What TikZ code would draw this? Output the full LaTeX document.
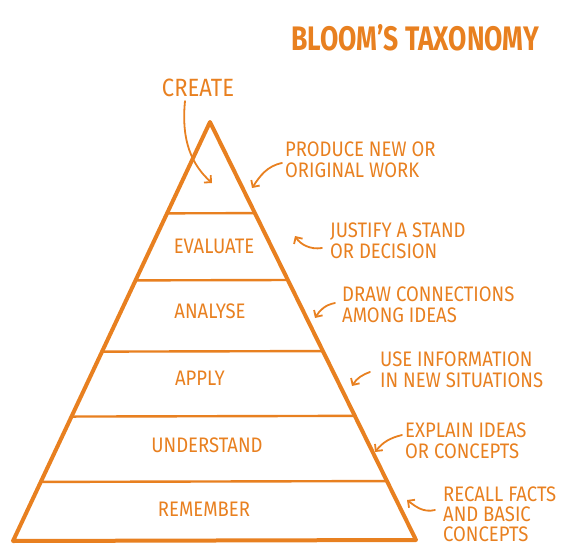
\documentclass[tikz,border=0pt]{standalone}
\usepackage{fontspec}
\setmainfont{Fira Sans}[FakeStretch=0.88]
\usetikzlibrary{arrows.meta,calc}
\definecolor{bloomorange}{RGB}{232,128,32}

\begin{document}
\begin{tikzpicture}[x=1pt,y=-1pt,
		edge/.style={bloomorange,line width=4pt,line join=round,line cap=round},
		level/.style={bloomorange,line width=2.4pt,line cap=round},
		layer/.style={bloomorange,inner sep=0pt,font=\fontsize{21}{21}\selectfont},
		note/.style={bloomorange,inner sep=0pt,anchor=west,align=left,font=\fontsize{21}{21}\selectfont},
		pointer/.style={bloomorange,line width=1.8pt,line cap=round,-{Straight Barb[length=5pt,width=10pt]}}]
		\useasboundingbox (0,0) rectangle (582,549);
		\coordinate (apex) at (210,122);
		\coordinate (bl) at (13,541);
		\coordinate (br) at (416,540);
		\draw[edge] (bl) -- (apex) -- (br) -- cycle;
		\foreach \f in {0.218,0.378,0.548,0.703,0.859}
			\draw[level] ($(apex)!\f!(bl)$) -- ($(apex)!\f!(br)$);
		\node[bloomorange,inner sep=0pt,font=\bfseries\fontsize{34}{34}\selectfont\addfontfeature{FakeStretch=0.78}] (title) at (415,38) {BLOOM'S TAXONOMY};
		\node[layer,font=\fontsize{25}{25}\selectfont] (create) at (198,88) {CREATE};
		\node[layer] (evaluate) at (214,246) {EVALUATE};
		\node[layer] (analyse) at (210,311) {ANALYSE};
		\node[layer] (apply) at (200,378) {APPLY};
		\node[layer] (understand) at (207,445) {UNDERSTAND};
		\node[layer] (remember) at (204,509) {REMEMBER};
		\node[note] (produce) at (285,160) {PRODUCE NEW OR\\ORIGINAL WORK};
		\node[note] (justify) at (330,241) {JUSTIFY A STAND\\OR DECISION};
		\node[note] (connect) at (342,305) {DRAW CONNECTIONS\\AMONG IDEAS};
		\node[note] (useinfo) at (380,370) {USE INFORMATION\\IN NEW SITUATIONS};
		\node[note] (explain) at (405,441) {EXPLAIN IDEAS\\OR CONCEPTS};
		\node[note,font=\fontsize{21}{20}\selectfont] (recall) at (443,514) {RECALL FACTS\\AND BASIC\\CONCEPTS};
		\coordinate (tipcreate) at (212,183);
		\coordinate (tipproduce) at (252,188);
		\coordinate (tipjustify) at (295,236);
		\coordinate (tipconnect) at (315,318);
		\coordinate (tipuse) at (352,386);
		\coordinate (tipexplain) at (375,452);
		\coordinate (tiprecall) at (407,500);
		\draw[pointer] ([shift={(-13,4)}]create.south) .. controls +(-4,40) and +(-20,-18) .. (tipcreate);
		\draw[pointer] ([shift={(-3,3)}]produce.west) .. controls +(-15,3) and +(8,-12) .. (tipproduce);
		\draw[pointer] ([shift={(-8,7)}]justify.west) .. controls +(-12,2) and +(5,8) .. (tipjustify);
		\draw[pointer] ([shift={(-7,-2)}]connect.west) .. controls +(-10,2) and +(5,-8) .. (tipconnect);
		\draw[pointer] ([shift={(-10,2)}]useinfo.west) .. controls +(-8,3) and +(5,-8) .. (tipuse);
		\draw[pointer] ([shift={(-3,-6)}]explain.west) .. controls +(-12,3) and +(8,-10) .. (tipexplain);
		\draw[pointer] ([shift={(-8,-4)}]recall.west) .. controls +(-12,3) and +(8,6) .. (tiprecall);
\end{tikzpicture}
\end{document}
